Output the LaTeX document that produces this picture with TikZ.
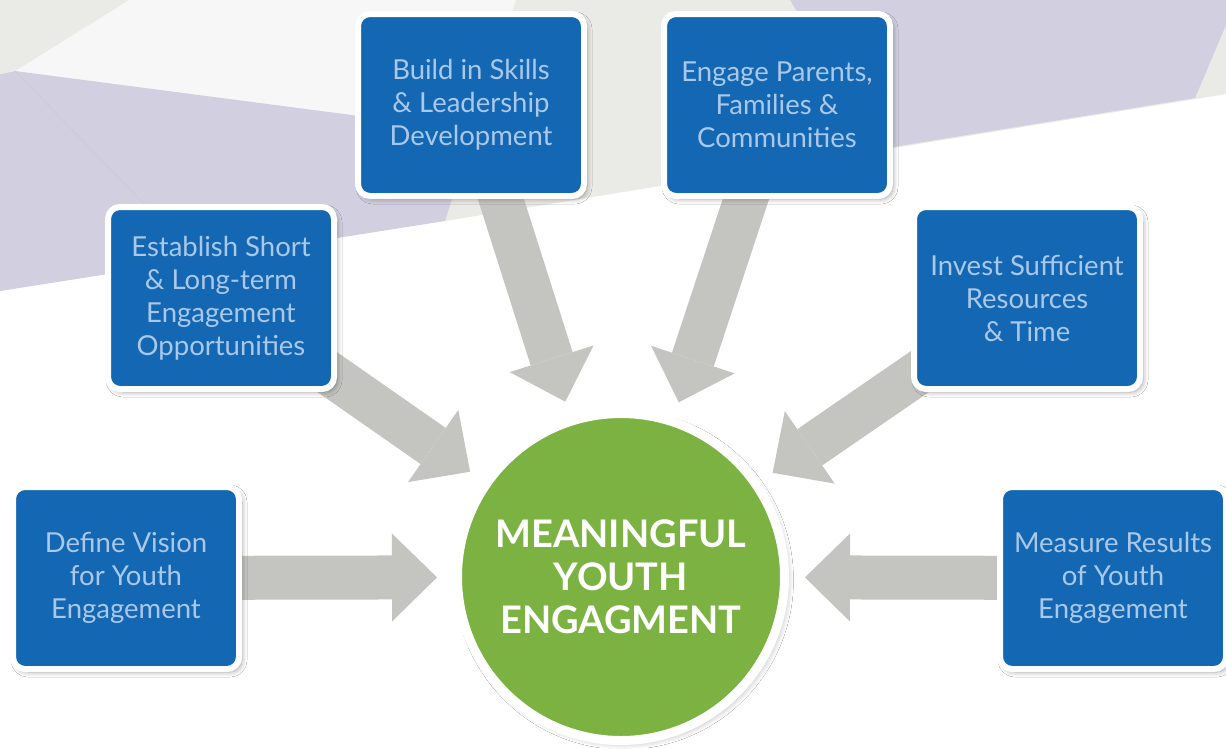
\documentclass[tikz,border=0pt]{standalone}
\usepackage{fontspec}
\setmainfont{Lato}
\usetikzlibrary{arrows.meta,calc,shadows.blur}
\definecolor{boxblue}{HTML}{1467B2}
\definecolor{boxtext}{HTML}{A9C8EA}
\definecolor{arrowgray}{HTML}{C4C4C0}
\definecolor{leafgreen}{HTML}{7BB241}
\definecolor{lav}{HTML}{D1CFE0}
\definecolor{bggray}{HTML}{EAEAE6}
\definecolor{bgwhite}{HTML}{F7F7F7}
\begin{document}
\begin{tikzpicture}[x=1pt,y=-1pt,
  stepbox/.style={rectangle, rounded corners=12pt, fill=boxblue, draw=white,
    line width=6pt, minimum width=226pt, minimum height=182pt, inner sep=0pt,
    align=center, text=boxtext, font=\fontsize{27.5}{33}\selectfont,
    blur shadow={shadow xshift=3pt, shadow yshift=-3pt, shadow blur radius=5pt,
      shadow blur steps=8, shadow opacity=35}},
  goal/.style={circle, fill=leafgreen, draw=white, line width=9pt,
    minimum size=327pt, inner sep=0pt, align=center, text=white,
    font=\fontsize{38}{43}\selectfont\bfseries,
    blur shadow={shadow xshift=3pt, shadow yshift=-3pt, shadow blur radius=6pt,
      shadow blur steps=8, shadow opacity=30}},
  conn/.style={draw=arrowgray, line width=44pt,
    -{Triangle[length=45pt, width=88pt, line width=0pt]}}
]
\useasboundingbox (0,0) rectangle (1226,748);
% background facets
\fill[white] (0,0) rectangle (1226,748);
\fill[bgwhite] (0,0) -- (1226,0) -- (1226,94) -- (0,291) -- cycle;
\fill[bggray] (516,0) -- (1226,0) -- (1226,94) -- (445,221) -- cycle;
\fill[lav] (0,74) -- (15,71) -- (474,131) -- (445,221) -- (0,291) -- cycle;
\fill[lav] (790,0) -- (1226,0) -- (1226,25) -- (1195,98) -- (880,149) -- cycle;
\fill[bggray] (0,0) -- (129,0) -- (15,71) -- (0,74) -- cycle;
\draw[lav!80!black!60, line width=0.4pt] (15,71) -- (150,210);

% node positions
\coordinate (pbuild) at (471,105);
\coordinate (pengage) at (777,105);
\coordinate (pestablish) at (221,298);
\coordinate (pinvest) at (1027,298);
\coordinate (pdefine) at (126,578);
\coordinate (pmeasure) at (1113,578);
\coordinate (pgoal) at (621,577);

% arrow tips
\foreach \n in {build,engage,establish,invest,define,measure}{
  \coordinate (t\n) at ($(pgoal)!184pt!(p\n)$);
}
\foreach \n in {build,engage,establish,invest,define,measure}{
  \draw[conn] (p\n) -- (t\n);
}

\node[stepbox] (build) at (pbuild) {Build in Skills\\ \& Leadership\\ Development};
\node[stepbox] (engage) at (pengage) {Engage Parents,\\ Families \&\\ Communities};
\node[stepbox] (establish) at (pestablish) {Establish Short\\ \& Long-term\\ Engagement\\ Opportunities};
\node[stepbox] (invest) at (pinvest) {Invest Sufficient\\ Resources\\ \& Time};
\node[stepbox] (define) at (pdefine) {Define Vision\\ for Youth\\ Engagement};
\node[stepbox] (measure) at (pmeasure) {Measure Results\\ of Youth\\ Engagement};

\node[goal] (goal) at (pgoal) {MEANINGFUL\\ YOUTH\\ ENGAGMENT};
\end{tikzpicture}
\end{document}
